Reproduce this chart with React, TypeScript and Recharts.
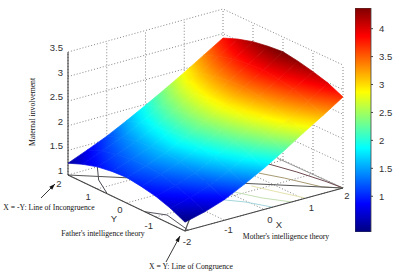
import { BarChart, Bar, XAxis, YAxis, ScatterChart, Scatter } from 'recharts';

// grid of the surface
const xGrid = [-2, -1.5, -1, -0.5, 0, 0.5, 1, 1.5, 2];
const yGrid = [2, 1.5, 1, 0.5, 0, -0.5, -1, -1.5, -2];
const heightRows = [
  [1.24, 1.40, 1.57, 1.77, 1.98, 2.20, 2.43, 2.67, 2.91],
  [1.36, 1.52, 1.68, 1.88, 2.09, 2.32, 2.55, 2.79, 3.03],
  [1.45, 1.59, 1.75, 1.95, 2.17, 2.39, 2.63, 2.87, 3.12],
  [1.50, 1.64, 1.79, 1.99, 2.21, 2.44, 2.68, 2.92, 3.17],
  [1.52, 1.65, 1.81, 2.01, 2.22, 2.45, 2.70, 2.94, 3.20],
  [1.48, 1.61, 1.76, 1.96, 2.17, 2.41, 2.65, 2.90, 3.15],
  [1.42, 1.53, 1.68, 1.88, 2.10, 2.33, 2.58, 2.83, 3.08],
  [1.32, 1.43, 1.57, 1.77, 1.99, 2.23, 2.48, 2.73, 2.99],
  [1.18, 1.28, 1.42, 1.62, 1.84, 2.08, 2.34, 2.59, 2.85],
];

const xTicks = [-1, 0, 1, 2];
const yTicks = [2, 1, 0, -1, -2];
const zTicks = [1, 1.5, 2, 2.5, 3, 3.5];
const colourTicks = [1, 1.5, 2, 2.5, 3, 3.5, 4];
const colourMin = 0.36;
const colourMax = 4.37;

// contour lines on the floor, [x, y] pairs
const floorContours: { color: string; points: number[][] }[] = [
  { color: '#9a9a98', points: [[1.97, 0.15], [1.98, -0.62], [1.99, -1.45], [2, -2]] },
  { color: '#6e4a50', points: [[1.63, 0], [1.81, -0.71], [1.95, -1.5], [2, -2]] },
  { color: '#a79a72', points: [[1.16, -0.29], [1.4, -0.83], [1.7, -1.69], [2, -2]] },
  { color: '#e6e3b0', points: [[0.6, -0.78], [0.82, -1.38], [1.05, -1.98]] },
  { color: '#c5e0b4', points: [[0.12, -0.84], [0.36, -1.45], [0.7, -2]] },
  { color: '#a5d6dc', points: [[-0.31, -1.08], [-0.05, -1.42], [0.21, -1.98]] },
  { color: '#4a4a55', points: [[-1.25, 1.99], [-1.67, 1.39], [-1.98, 0.7]] },
  { color: '#55555f', points: [[-2, -0.62], [-1.75, -1.05], [-1.92, -1.99]] },
];
const incongruenceLine = [[-2, 2], [2, -2]];
const congruenceLine = [[-2, -2], [2, 2]];

const annotations = [
  { text: 'X = -Y: Line of Incongruence', px: 49, py: 210 },
  { text: "Father's intelligence theory", px: 103, py: 236 },
  { text: 'X = Y: Line of Congruence', px: 191, py: 269 },
  { text: "Mother's intelligence theory", px: 286, py: 239 },
];
const arrows = [
  [[41, 198], [55, 184]],
  [[166, 262], [180, 236]],
];

const corners = { left: [68, 175], front: [185, 231], right: [343, 188], back: [223, 132] };
const pxPerUnit = 49.2;

function project(x: number, y: number, z: number) {
  const b = (x + 2) / 4;
  const a = (2 - y) / 4;
  const at = (i: number) =>
    corners.left[i] * (1 - a) * (1 - b) + corners.front[i] * a * (1 - b) + corners.right[i] * a * b + corners.back[i] * (1 - a) * b;
  return { px: at(0), py: at(1) - (z - 1) * pxPerUnit };
}

function jet(c: number) {
  const t = (c - colourMin) / (colourMax - colourMin);
  const ch = (v: number) => Math.round(255 * Math.max(0, Math.min(1, v)));
  return `rgb(${ch(1.5 - Math.abs(4 * t - 3))},${ch(1.5 - Math.abs(4 * t - 2))},${ch(1.5 - Math.abs(4 * t - 1))})`;
}

// the colour bar runs on its own scale, about twice the axis height
const colourOf = (h: number) => 2 * h - 2;

const cells: any[] = [];
for (let j = 0; j < yGrid.length - 1; j++) {
  for (let i = xGrid.length - 2; i >= 0; i--) {
    const quad = [[i, j], [i + 1, j], [i + 1, j + 1], [i, j + 1]].map(([a, b]) => ({
      ...project(xGrid[a], yGrid[b], heightRows[b][a]),
      c: colourOf(heightRows[b][a]),
    }));
    const px = quad.reduce((s, q) => s + q.px, 0) / 4;
    const py = quad.reduce((s, q) => s + q.py, 0) / 4;
    cells.push({ px, py, quad, id: `cell-${j}-${i}` });
  }
}

function SurfaceCell(props: any) {
  const { cx, cy, payload } = props;
  const { quad, id, px, py } = payload;
  const cMean = quad.reduce((s: number, q: any) => s + q.c, 0) / 4;
  // least squares plane through the 4 corners gives the colour direction
  let sxx = 0, sxy = 0, syy = 0, sxc = 0, syc = 0;
  quad.forEach((q: any) => {
    const dx = q.px - px, dy = q.py - py, dc = q.c - cMean;
    sxx += dx * dx; sxy += dx * dy; syy += dy * dy; sxc += dx * dc; syc += dy * dc;
  });
  const det = sxx * syy - sxy * sxy || 1;
  const gx = (syy * sxc - sxy * syc) / det;
  const gy = (sxx * syc - sxy * sxc) / det;
  const g2 = gx * gx + gy * gy || 1;
  const lo = Math.min(...quad.map((q: any) => q.c)) - cMean;
  const hi = Math.max(...quad.map((q: any) => q.c)) - cMean;
  const stops = [0, 0.2, 0.4, 0.6, 0.8, 1];
  const points = quad.map((q: any) => `${cx + q.px - px},${cy + q.py - py}`).join(' ');
  return (
    <g>
      <defs>
        <linearGradient
          id={id}
          gradientUnits="userSpaceOnUse"
          x1={cx + (gx / g2) * lo}
          y1={cy + (gy / g2) * lo}
          x2={cx + (gx / g2) * hi}
          y2={cy + (gy / g2) * hi}
        >
          {stops.map((s) => (
            <stop key={s} offset={s} stopColor={jet(cMean + lo + (hi - lo) * s)} />
          ))}
        </linearGradient>
      </defs>
      <polygon points={points} fill={`url(#${id})`} stroke={`url(#${id})`} strokeWidth={0.7} />
    </g>
  );
}

function LabelText(props: any) {
  const { cx, cy, payload } = props;
  return (
    <text
      x={cx}
      y={cy}
      textAnchor={payload.anchor ?? 'middle'}
      fontFamily={payload.sans ? 'Liberation Sans' : 'Liberation Serif'}
      fontSize={payload.sans ? 9.5 : 7.7}
      fill={payload.sans ? '#333' : '#111'}
      transform={payload.rotate ? `rotate(${payload.rotate} ${cx} ${cy})` : undefined}
    >
      {payload.text}
    </text>
  );
}

function ArrowHead(props: any) {
  const { cx, cy, payload } = props;
  if (!payload.head) return null;
  const { dx, dy } = payload;
  const n = Math.hypot(dx, dy);
  const ux = dx / n, uy = dy / n;
  const bx = cx - ux * 6, by = cy - uy * 6;
  return <polygon points={`${cx},${cy} ${bx - uy * 2},${by + ux * 2} ${bx + uy * 2},${by - ux * 2}`} fill="#111" />;
}

const noShape = () => <g />;
const lineOf = (pts: number[][], z = 1) => pts.map(([x, y]) => project(x, y, z));
const gridSteps = [-2, -1, 0, 1, 2];
const dotted = { stroke: '#666', strokeWidth: 0.8, strokeDasharray: '1 2' };

const guides: any[][] = [
  ...zTicks.slice(1).map((z) => [project(-2, 2, z), project(2, 2, z), project(2, -2, z)]),
  ...gridSteps.map((x) => [project(x, 2, 1), project(x, 2, 3.5)]),
  ...gridSteps.slice(0, -1).map((y) => [project(2, y, 1), project(2, y, 3.5)]),
  ...gridSteps.map((x) => [project(x, 2, 1), project(x, -2, 1)]),
  ...gridSteps.map((y) => [project(-2, y, 1), project(2, y, 1)]),
];

// label offsets from the floor ticks, same order as yTicks / xTicks
const yLabelShift = [[-9, 12], [-9, 11], [-6.5, 10], [-7, 12], [2, 14]];
const xLabelShift = [[4, 13], [6, 13], [8, 12], [4, 11]];

const tickLabels = [
  ...zTicks.map((z) => ({ ...project(-2, 2, z), text: String(z), sans: true, anchor: 'end', shift: [-5, -1] })),
  ...yTicks.map((y, i) => ({ ...project(-2, y, 1), text: String(y), sans: true, anchor: 'middle', shift: yLabelShift[i] })),
  ...xTicks.map((x, i) => ({ ...project(x, -2, 1), text: String(x), sans: true, anchor: 'middle', shift: xLabelShift[i] })),
].map((l) => ({ ...l, px: l.px + l.shift[0], py: l.py + l.shift[1] }));

const extraLabels = [
  { text: 'Y', px: 114, py: 222, sans: true },
  { text: 'X', px: 279, py: 228, sans: true },
  { text: 'Maternal involvement', px: 35, py: 112, rotate: -90 },
  ...annotations,
];

const barData = [{ name: 'colour', v: colourMax }];
const barStops = [0, 0.125, 0.375, 0.625, 0.875, 1];

export default function App() {
  return (
    <div style={{ position: 'absolute', left: 0, top: 0, width: 400, height: 272, background: '#fff' }}>
      <ScatterChart width={400} height={272} margin={{ top: 0, right: 0, bottom: 0, left: 0 }}>
        <XAxis type="number" dataKey="px" domain={[0, 400]} hide />
        <YAxis type="number" dataKey="py" domain={[0, 272]} reversed hide />
        {guides.map((pts, i) => (
          <Scatter key={`g${i}`} data={pts} line={dotted} shape={noShape} isAnimationActive={false} />
        ))}
        {floorContours.map((c, i) => (
          <Scatter key={`c${i}`} data={lineOf(c.points)} line={{ stroke: c.color, strokeWidth: 1 }} shape={noShape} isAnimationActive={false} />
        ))}
        <Scatter data={lineOf(incongruenceLine)} line={{ stroke: '#555', strokeWidth: 1.2 }} shape={noShape} isAnimationActive={false} />
        <Scatter data={lineOf(congruenceLine)} line={{ stroke: '#555', strokeWidth: 1.2 }} shape={noShape} isAnimationActive={false} />
        <Scatter data={[project(-2, 2, 1), project(-2, 2, 3.5)]} line={{ stroke: '#333', strokeWidth: 1 }} shape={noShape} isAnimationActive={false} />
        <Scatter data={[project(-2, 2, 1), project(-2, -2, 1), project(2, -2, 1)]} line={{ stroke: '#444', strokeWidth: 1.1 }} shape={noShape} isAnimationActive={false} />
        <Scatter data={cells} shape={SurfaceCell} isAnimationActive={false} />
        {arrows.map((a, i) => {
          const [[x0, y0], [x1, y1]] = a;
          return (
            <Scatter
              key={`a${i}`}
              data={[{ px: x0, py: y0 }, { px: x1, py: y1, head: true, dx: x1 - x0, dy: y1 - y0 }]}
              line={{ stroke: '#222', strokeWidth: 0.9 }}
              shape={ArrowHead}
              isAnimationActive={false}
            />
          );
        })}
        <Scatter data={[...tickLabels, ...extraLabels]} shape={LabelText} isAnimationActive={false} />
      </ScatterChart>
      <div style={{ position: 'absolute', left: 355, top: 8 }}>
        <BarChart width={45} height={224} data={barData} margin={{ top: 0, right: 0, bottom: 0, left: 0 }} barCategoryGap={0}>
          <defs>
            <linearGradient id="jetBar" x1="0" y1="1" x2="0" y2="0">
              {barStops.map((t) => (
                <stop key={t} offset={t} stopColor={jet(colourMin + t * (colourMax - colourMin))} />
              ))}
            </linearGradient>
          </defs>
          <XAxis dataKey="name" hide />
          <YAxis
            orientation="right"
            width={29}
            domain={[colourMin, colourMax]}
            ticks={colourTicks}
            axisLine={false}
            tickLine={{ stroke: '#444' }}
            tickSize={2}
            tickMargin={6}
            tick={{ fontSize: 9.5, fontFamily: 'Liberation Sans', fill: '#333' }}
            allowDataOverflow
          />
          <Bar dataKey="v" fill="url(#jetBar)" stroke="#444" strokeWidth={0.8} isAnimationActive={false} />
        </BarChart>
      </div>
    </div>
  );
}
